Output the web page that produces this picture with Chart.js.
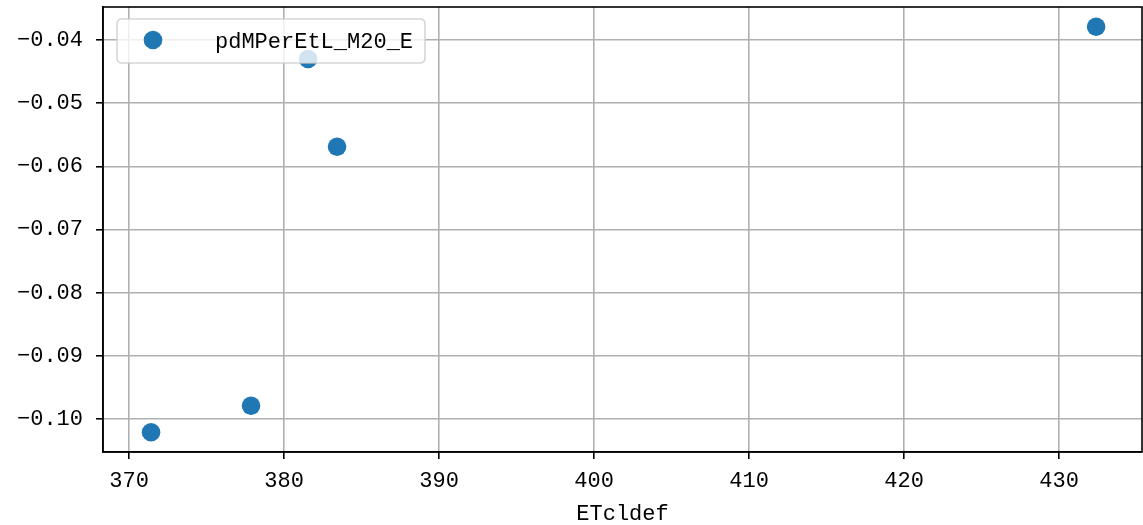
<!DOCTYPE html>
<html>
<head>
<meta charset="utf-8">
<script src="https://cdn.jsdelivr.net/npm/chart.js@4"></script>
<style>
html,body{margin:0;padding:0;background:#fff;}
#wrap{width:1143px;height:525px;position:relative;}
</style>
</head>
<body>
<div id="wrap"><canvas id="c" width="1143" height="525"></canvas></div>
<script>
const seriesName = "pdMPerEtL_M20_E";
const xLabel = "ETcldef";
const xValues = [371.42, 377.87, 381.55, 383.42, 432.39];
const yValues = [-0.1021, -0.0979, -0.0430, -0.0569, -0.0379];
const xTicks = [370, 380, 390, 400, 410, 420, 430];
const yTicks = [-0.10, -0.09, -0.08, -0.07, -0.06, -0.05, -0.04];
const xRange = [368.32, 435.35];
const yRange = [-0.10522, -0.03478];

const FONT = "'Liberation Mono', 'DejaVu Sans Mono', monospace";
const FSIZE = 22;
const BLUE = '#1f77b4';

function zeroPad(s) { s.paddingLeft = 0; s.paddingRight = 0; s.paddingTop = 0; s.paddingBottom = 0; }

const framePlugin = {
  id: 'frame',
  afterDatasetsDraw(chart) {
    const ctx = chart.ctx, a = chart.chartArea;
    ctx.save();
    ctx.strokeStyle = '#000';
    ctx.lineWidth = 1.6;
    ctx.strokeRect(a.left, a.top, a.right - a.left, a.bottom - a.top);
    // legend
    const lx = a.left + 14, ly = a.top + 12, lw = 308, lh = 44, r = 5;
    ctx.beginPath();
    ctx.moveTo(lx + r, ly);
    ctx.lineTo(lx + lw - r, ly);
    ctx.quadraticCurveTo(lx + lw, ly, lx + lw, ly + r);
    ctx.lineTo(lx + lw, ly + lh - r);
    ctx.quadraticCurveTo(lx + lw, ly + lh, lx + lw - r, ly + lh);
    ctx.lineTo(lx + r, ly + lh);
    ctx.quadraticCurveTo(lx, ly + lh, lx, ly + lh - r);
    ctx.lineTo(lx, ly + r);
    ctx.quadraticCurveTo(lx, ly, lx + r, ly);
    ctx.closePath();
    ctx.fillStyle = 'rgba(255,255,255,0.8)';
    ctx.fill();
    ctx.strokeStyle = 'rgba(204,204,204,0.8)';
    ctx.lineWidth = 1.6;
    ctx.stroke();
    ctx.beginPath();
    ctx.arc(lx + 36, ly + 21, 9.3, 0, Math.PI * 2);
    ctx.fillStyle = BLUE;
    ctx.fill();
    ctx.fillStyle = '#000';
    ctx.font = FSIZE + 'px ' + FONT;
    ctx.textBaseline = 'middle';
    ctx.textAlign = 'left';
    ctx.fillText(seriesName, lx + 98, ly + 23);
    ctx.restore();
  }
};

new Chart(document.getElementById('c'), {
  type: 'scatter',
  data: {
    datasets: [{
      label: seriesName,
      data: xValues.map((x, i) => ({x: x, y: yValues[i]})),
      backgroundColor: BLUE,
      borderWidth: 0,
      pointRadius: 9.3,
      pointHoverRadius: 9.3
    }]
  },
  options: {
    responsive: false,
    animation: false,
    devicePixelRatio: 1,
    layout: {autoPadding: false, padding: {top: 7, right: 1, left: 0, bottom: 0}},
    plugins: {legend: {display: false}, tooltip: {enabled: false}},
    scales: {
      x: {
        type: 'linear',
        min: xRange[0], max: xRange[1],
        afterFit(s) { s.height = 73; zeroPad(s); },
        afterBuildTicks(s) { s.ticks = xTicks.map(v => ({value: v})); },
        grid: {color: '#b0b0b0', lineWidth: 1.6, tickColor: '#000', tickLength: 7, tickWidth: 1.6},
        border: {color: '#000', width: 1.6},
        ticks: {color: '#000', font: {family: FONT, size: FSIZE}, padding: 9, maxRotation: 0,
          callback: v => String(v)},
        title: {display: true, text: xLabel, color: '#000', font: {family: FONT, size: FSIZE}, padding: {top: 0, bottom: -2}}
      },
      y: {
        type: 'linear',
        min: yRange[0], max: yRange[1],
        afterFit(s) { s.width = 103; zeroPad(s); },
        afterBuildTicks(s) { s.ticks = yTicks.map(v => ({value: v})); },
        grid: {color: '#b0b0b0', lineWidth: 1.6, tickColor: '#000', tickLength: 7, tickWidth: 1.6},
        border: {color: '#000', width: 1.6},
        ticks: {color: '#000', font: {family: FONT, size: FSIZE}, padding: 13,
          callback: v => (v < 0 ? '\u2212' : '') + Math.abs(v).toFixed(2)}
      }
    }
  },
  plugins: [framePlugin]
});
</script>
</body>
</html>
